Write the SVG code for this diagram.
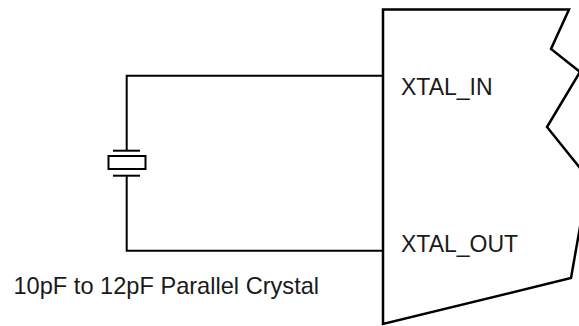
<svg xmlns="http://www.w3.org/2000/svg" width="579" height="326" viewBox="0 0 579 326">
<style>
.blk{fill:#fff;stroke:#000;stroke-width:2.5;stroke-linejoin:miter}
.w{fill:none;stroke:#000;stroke-width:2}
.t{font-family:"Liberation Sans",Arial,sans-serif;font-size:23px;fill:#1a1a1a}
.cap{font-size:23.6px}
</style>
<rect width="579" height="326" fill="#fff"/>
<g id="chip">
<path class="blk" d="M383,9.5 L569,9.5 L551,49 L580,72 L547,127 L580,168 L584,200 L580,227 L571,278 L383,324 Z"/>
<text class="t" x="401" y="95">XTAL_IN</text>
<text class="t" x="401" y="252">XTAL_OUT</text>
</g>
<g id="connectors">
<path class="w" d="M383,75.7 L126.7,75.7 L126.7,150.7"/>
<path class="w" d="M126.7,175.7 L126.7,250.7 L383,250.7"/>
</g>
<g id="crystal">
<line class="w" x1="113" y1="150.7" x2="140" y2="150.7"/>
<rect class="w" x="108.5" y="156" width="37" height="13"/>
<line class="w" x1="113" y1="175.7" x2="140" y2="175.7"/>
</g>
<g id="caption">
<text class="t cap" x="13.5" y="294">10pF to 12pF Parallel Crystal</text>
</g>
</svg>
